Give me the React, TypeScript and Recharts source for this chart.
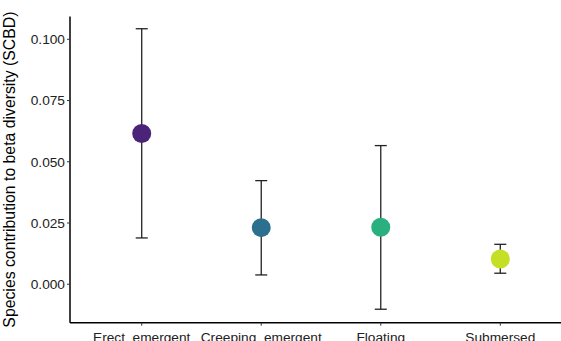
import { ComposedChart, Scatter, ErrorBar, XAxis, YAxis, Cell, Label } from 'recharts';

// Values
const CATEGORIES = ['Erect  emergent', 'Creeping  emergent', 'Floating', 'Submersed'];
const MEANS = [0.0615, 0.0231, 0.0233, 0.0103];
const UPPER = [0.1043, 0.0423, 0.0566, 0.0163];
const LOWER = [0.0189, 0.0038, -0.0102, 0.0045];
const COLORS = ['#4B2379', '#2D6F8E', '#2AB07F', '#C5DF26'];
const Y_TICKS = [0, 0.025, 0.05, 0.075, 0.1];

const FONT = 'Arial, "Liberation Sans", sans-serif';

const data = CATEGORIES.map((name, i) => ({
  x: i + 1,
  name,
  mean: MEANS[i],
  err: [MEANS[i] - LOWER[i], UPPER[i] - MEANS[i]],
}));

function XTick({ x, y, payload }: any) {
  const label = CATEGORIES[payload.value - 1] ?? '';
  return (
    <text
      x={x}
      y={y + 14}
      textAnchor="middle"
      fontSize={13.7}
      fontFamily={FONT}
      fill="#222"
      style={{ whiteSpace: 'pre' }}
    >
      {label}
    </text>
  );
}

function Dot({ cx, cy, fill }: any) {
  return <circle cx={cx} cy={cy} r={9.5} fill={fill} />;
}

export default function App() {
  return (
    <div style={{ position: 'fixed', left: 0, top: 0, width: 561, height: 341, overflow: 'hidden', background: '#fff' }}>
      <ComposedChart width={580} height={341} data={data} margin={{ top: 16.5, right: 8, bottom: 0, left: 0 }}>
        <XAxis
          xAxisId="top"
          orientation="top"
          dataKey="x"
          type="number"
          domain={[0.4, 4.6]}
          height={0}
          tick={false}
          tickLine={false}
          axisLine={{ stroke: '#000', strokeWidth: 1.5 }}
        />
        <XAxis
          dataKey="x"
          type="number"
          domain={[0.4, 4.6]}
          ticks={[1, 2, 3, 4]}
          height={18.3}
          tick={<XTick />}
          tickSize={3}
          tickLine={{ stroke: '#333' }}
          axisLine={{ stroke: '#000', strokeWidth: 1.5 }}
        />
        <YAxis
          dataKey="mean"
          type="number"
          domain={[-0.0157, 0.1093]}
          ticks={Y_TICKS}
          width={70}
          tickSize={3}
          tickFormatter={(v: number) => v.toFixed(3)}
          tick={{ fontSize: 13.7, fontFamily: FONT, fill: '#222' }}
          tickLine={{ stroke: '#333' }}
          axisLine={{ stroke: '#000', strokeWidth: 1.5 }}
          allowDataOverflow
        >
          <Label
            value="Species contribution to beta diversity (SCBD)"
            angle={-90}
            position="insideLeft"
            offset={0}
            dx={9}
            style={{ textAnchor: 'middle', fontSize: 15.8, fontFamily: FONT, fill: '#000' }}
          />
        </YAxis>
        <Scatter dataKey="mean" shape={<Dot />} isAnimationActive={false}>
          <ErrorBar dataKey="err" direction="y" width={6} stroke="#222" strokeWidth={1.3} />
          {data.map((d, i) => (
            <Cell key={d.name} fill={COLORS[i]} />
          ))}
        </Scatter>
      </ComposedChart>
    </div>
  );
}
